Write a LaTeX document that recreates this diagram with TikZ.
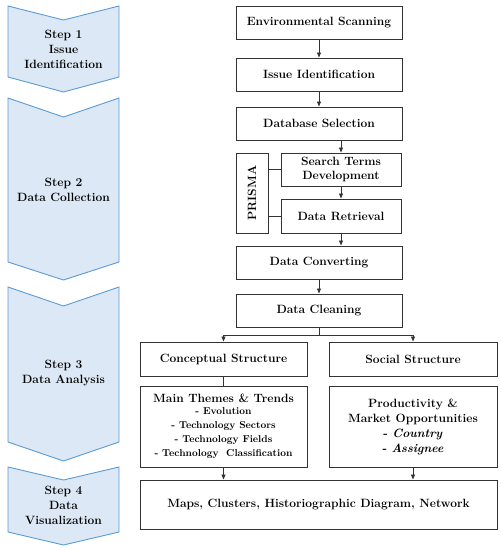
\documentclass[tikz,border=0pt]{standalone}
\usetikzlibrary{arrows.meta}
\definecolor{chevfill}{HTML}{DCE8F5}
\definecolor{chevline}{HTML}{5B9BD5}
\definecolor{boxline}{HTML}{333333}
\newcommand{\subfs}{\fontsize{10}{13}\selectfont}
\begin{document}
\begin{tikzpicture}[x=1pt,y=-1pt,
  chev/.style={fill=chevfill,draw=chevline,line width=0.9pt,line join=miter},
  steptext/.style={font=\fontsize{12}{15}\selectfont\bfseries,align=center,inner sep=0pt},
  box/.style={draw=boxline,line width=1pt,fill=white,inner sep=0pt,align=center,
     font=\fontsize{12}{14}\selectfont\bfseries},
  arr/.style={draw=boxline,line width=0.8pt,-{Triangle[length=5pt,width=4pt]}},
  ln/.style={draw=boxline,line width=0.8pt}]
\useasboundingbox (0,0) rectangle (501,550);
% chevrons
\draw[chev] (8,6) -- (63.5,20) -- (119,6) -- (119,77) -- (63.5,92) -- (8,77) -- cycle;
\draw[chev] (8,98) -- (63.5,117) -- (119,98) -- (119,262) -- (63.5,280) -- (8,262) -- cycle;
\draw[chev] (8,287) -- (63.5,306) -- (119,287) -- (119,442) -- (63.5,461) -- (8,442) -- cycle;
\draw[chev] (8,467) -- (63.5,480) -- (119,467) -- (119,532) -- (63.5,545) -- (8,532) -- cycle;
\node[steptext] (s1) at (63.5,49) {Step 1\\Issue\\Identification};
\node[steptext] (s2) at (63.5,189.5) {Step 2\\Data Collection};
\node[steptext] (s3) at (63.5,373.5) {Step 3\\Data Analysis};
\node[steptext] (s4) at (63.5,505) {Step 4\\Data\\Visualization};
% boxes
\node[box,minimum width=166pt,minimum height=33pt] (env) at (319,22.5) {Environmental Scanning};
\node[box,minimum width=166pt,minimum height=33pt] (issue) at (319,74.5) {Issue Identification};
\node[box,minimum width=166pt,minimum height=33pt] (db) at (319,123.5) {Database Selection};
\node[box,minimum width=120pt,minimum height=33pt] (search) at (341,169.5) {Search Terms\\Development};
\node[box,minimum width=120pt,minimum height=34pt] (retr) at (341,216) {Data Retrieval};
\node[box,minimum width=80pt,minimum height=32pt,rotate=90] (prisma) at (252,193) {PRISMA};
\node[box,minimum width=166pt,minimum height=33pt] (conv) at (319,262.5) {Data Converting};
\node[box,minimum width=166pt,minimum height=33pt] (clean) at (319,310.5) {Data Cleaning};
\node[box,minimum width=167pt,minimum height=34pt] (conc) at (223.5,359) {Conceptual Structure};
\node[box,minimum width=168pt,minimum height=34pt] (social) at (413,359) {Social Structure};
\node[box,minimum width=167pt,minimum height=81pt] (main) at (223.5,426.5)
  {Main Themes \& Trends\\[-1.5pt]
   \subfs - Evolution\\ \subfs - Technology Sectors\\ \subfs - Technology Fields\\ \subfs - Technology\ \ Classification};
\node[box,minimum width=168pt,minimum height=81pt,font=\fontsize{12}{15}\selectfont\bfseries] (prod) at (413,426.5)
  {Productivity \&\\Market Opportunities\\- \textit{Country}\\- \textit{Assignee}};
\node[box,minimum width=357pt,minimum height=49pt] (maps) at (318.5,504.5) {Maps, Clusters, Historiographic Diagram, Network};
% connectors
\draw[arr] (env) -- (issue);
\draw[arr] (issue) -- (db);
\draw[arr] (search.north |- db.south) -- (search.north);
\draw[arr] (search) -- (retr);
\draw[arr] (retr.south) -- (retr.south |- conv.north);
\draw[arr] (conv) -- (clean);
\draw[ln] (clean.south) -- ++(0,8) coordinate (br);
\draw[arr] (br) -| (conc.north);
\draw[arr] (br) -| (social.north);
\draw[ln] (conc) -- (main);
\draw[arr] (main.south) -- (main.south |- maps.north);
\draw[arr] (prod.south) -- (prod.south |- maps.north);
\draw[ln] (prisma.south |- search) -- (search.west);
\draw[ln] (prisma.south |- retr) -- (retr.west);
\end{tikzpicture}
\end{document}
